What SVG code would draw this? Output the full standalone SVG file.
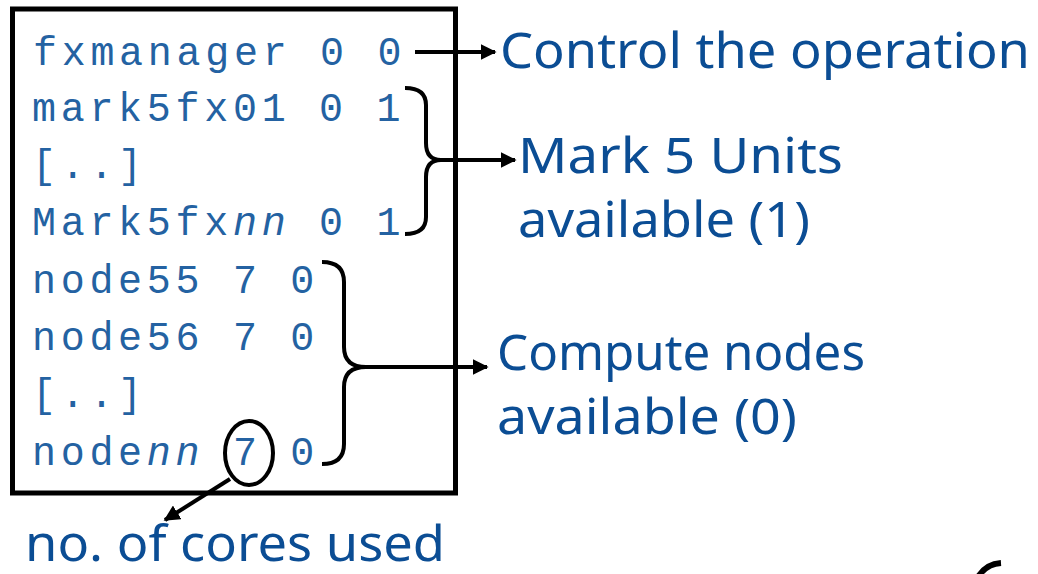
<svg xmlns="http://www.w3.org/2000/svg" width="1038" height="574" viewBox="0 0 1038 574">
<defs>
<style>
.mono{font-family:"Liberation Mono","Courier New",monospace;font-size:40px;letter-spacing:4.7px;fill:#2462A2}
.lbl{font-family:"Noto Sans","DejaVu Sans",sans-serif;font-size:50px;fill:#0B4D94}
.ln{fill:none;stroke:#000;stroke-width:4}
</style>
<marker id="ah" viewBox="0 0 10 10" refX="9" refY="5" markerWidth="4" markerHeight="4" orient="auto" markerUnits="strokeWidth">
<path d="M0,0 L10,5 L0,10 z" fill="#000"/>
</marker>
</defs>
<rect width="1038" height="574" fill="#fff"/>
<g id="hostfile">
<rect x="12.5" y="9" width="443" height="484" fill="none" stroke="#000" stroke-width="5"/>
<text class="mono" x="33" y="65">fxmanager 0 0</text>
<text class="mono" x="32" y="121">mark5fx01 0 1</text>
<text class="mono" x="32" y="178">[..]</text>
<text class="mono" x="32" y="235">Mark5fx<tspan font-style="italic">nn</tspan> 0 1</text>
<text class="mono" x="32" y="293">node55 7 0</text>
<text class="mono" x="32" y="350">node56 7 0</text>
<text class="mono" x="32" y="407">[..]</text>
<text class="mono" x="32" y="465">node<tspan font-style="italic">nn</tspan> 7 0</text>
<ellipse cx="249" cy="453" rx="24" ry="32" class="ln"/>
</g>
<g id="connectors">
<path class="ln" d="M405,88 Q426,88 426,105 L426,143 Q426,160 441,160"/>
<path class="ln" d="M405,234 Q426,234 426,217 L426,177 Q426,160 441,160"/>
<path class="ln" d="M322,262 Q344,262 344,282 L344,347 Q344,367 366,367"/>
<path class="ln" d="M322,464 Q344,464 344,444 L344,387 Q344,367 366,367"/>
<line class="ln" x1="415" y1="52" x2="495" y2="52" marker-end="url(#ah)"/>
<line class="ln" x1="440" y1="160" x2="515" y2="160" marker-end="url(#ah)"/>
<line class="ln" x1="366" y1="367" x2="487" y2="367" marker-end="url(#ah)"/>
<line class="ln" x1="230" y1="479" x2="165" y2="520" marker-end="url(#ah)"/>
<path d="M978,577 Q986,564 1001,563" fill="none" stroke="#000" stroke-width="6"/>
</g>
<g id="label-control"><text class="lbl" x="500" y="68" textLength="530" lengthAdjust="spacingAndGlyphs">Control the operation</text></g>
<g id="label-mark5"><text class="lbl" x="518" y="173" textLength="325" lengthAdjust="spacingAndGlyphs">Mark 5 Units</text>
<text class="lbl" x="518" y="237" textLength="292" lengthAdjust="spacingAndGlyphs">available (1)</text></g>
<g id="label-compute"><text class="lbl" x="497" y="370" textLength="368" lengthAdjust="spacingAndGlyphs">Compute nodes</text>
<text class="lbl" x="497" y="434" textLength="300" lengthAdjust="spacingAndGlyphs">available (0)</text></g>
<g id="label-cores"><text class="lbl" x="25" y="561" textLength="420" lengthAdjust="spacingAndGlyphs">no. of cores used</text></g>
</svg>
